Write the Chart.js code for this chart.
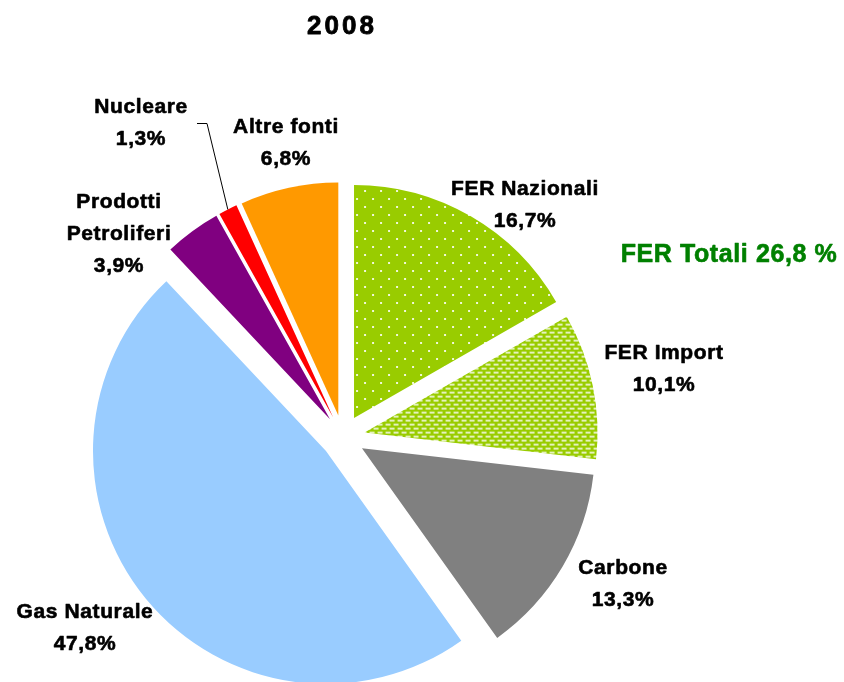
<!DOCTYPE html>
<html>
<head>
<meta charset="utf-8">
<script src="https://cdn.jsdelivr.net/npm/chart.js@4/dist/chart.umd.min.js"></script>
<style>
  html, body { margin: 0; padding: 0; background: #fff; }
  #wrap { width: 844px; height: 682px; }
</style>
</head>
<body>
<div id="wrap"><canvas id="chart" width="844" height="682"></canvas></div>
<script>
// data
const categories = ["FER Nazionali", "FER Import", "Carbone", "Gas Naturale", "Prodotti Petroliferi", "Nucleare", "Altre fonti"];
const shares = [16.7, 10.1, 13.3, 47.8, 3.9, 1.3, 6.8];
const ferTotale = 26.8;
const chartTitle = "2008";

// layout (label centres, first line), kept apart from the data
const labelSpots = [
  { x: 525, y: 189 },
  { x: 664, y: 353 },
  { x: 623, y: 568 },
  { x: 85, y: 612 },
  { x: 119, y: 202 },
  { x: 141, y: 107 },
  { x: 286, y: 127 },
];
const lineH = 32;
const explode = 22; // px each slice is pulled out along its bisector
const FONT = '"Liberation Sans", Arial, sans-serif';

function dotPattern() {
  const c = document.createElement("canvas");
  c.width = 16; c.height = 16;
  const g = c.getContext("2d");
  g.fillStyle = "#99CC00";
  g.fillRect(0, 0, 16, 16);
  g.fillStyle = "rgba(255,255,255,0.85)";
  g.fillRect(1, 1, 2, 2);
  g.fillRect(9, 9, 2, 2);
  return g.createPattern(c, "repeat");
}

function brickPattern() {
  const c = document.createElement("canvas");
  c.width = 8; c.height = 8;
  const g = c.getContext("2d");
  g.fillStyle = "#99CC00";
  g.fillRect(0, 0, 8, 8);
  g.fillStyle = "rgba(255,255,255,0.75)";
  g.fillRect(0, 0, 5, 2);
  g.fillRect(4, 4, 5, 2);
  g.fillRect(-4, 4, 5, 2);
  return g.createPattern(c, "repeat");
}

const sliceColors = [dotPattern(), brickPattern(), "#808080", "#99CCFF", "#800080", "#FF0000", "#FF9900"];

function pct(v) {
  return v.toFixed(1).replace(".", ",") + "%";
}

// Excel-style explode: shift every slice without growing its radius
// (chart.js' own `offset` also enlarges big slices)
const explodePlugin = {
  id: "explode",
  beforeDatasetDraw(chart, args) {
    const ctx = chart.ctx;
    args.meta.data.forEach((arc) => {
      const mid = (arc.startAngle + arc.endAngle) / 2;
      ctx.save();
      ctx.translate(Math.cos(mid) * explode, Math.sin(mid) * explode);
      arc.draw(ctx, chart.chartArea);
      ctx.restore();
    });
    return false;
  },
};

// bold text, a touch heavier like the original rendering
function heavyText(ctx, t, x, y, w) {
  ctx.lineWidth = w;
  ctx.strokeStyle = ctx.fillStyle;
  ctx.lineJoin = "round";
  ctx.strokeText(t, x, y);
  ctx.fillText(t, x, y);
}

const labelsPlugin = {
  id: "pieLabels",
  afterDraw(chart) {
    const ctx = chart.ctx;
    ctx.save();
    ctx.textAlign = "center";
    ctx.textBaseline = "middle";

    // title
    ctx.fillStyle = "#000";
    ctx.font = "bold 26px " + FONT;
    ctx.letterSpacing = "3px";
    heavyText(ctx, chartTitle, 342, 27, 0.8);

    // slice labels
    ctx.font = "bold 21px " + FONT;
    ctx.letterSpacing = "0.6px";
    categories.forEach((name, i) => {
      const lines = name === "Prodotti Petroliferi" ? ["Prodotti", "Petroliferi"] : [name];
      lines.push(pct(shares[i]));
      const s = labelSpots[i];
      lines.forEach((t, k) => heavyText(ctx, t, s.x, s.y + k * lineH, 0.6));
    });

    // FER total
    ctx.fillStyle = "#008000";
    ctx.font = "bold 25px " + FONT;
    ctx.letterSpacing = "0.6px";
    heavyText(ctx, "FER Totali " + ferTotale.toFixed(1).replace(".", ",") + " %", 729, 255, 0.6);

    // leader line to Nucleare
    const arc = chart.getDatasetMeta(0).data[5];
    const mid = (arc.startAngle + arc.endAngle) / 2;
    const ex = arc.x + Math.cos(mid) * (arc.outerRadius + explode);
    const ey = arc.y + Math.sin(mid) * (arc.outerRadius + explode);
    ctx.strokeStyle = "#000";
    ctx.lineWidth = 1;
    ctx.beginPath();
    ctx.moveTo(197, 123.5);
    ctx.lineTo(207, 123.5);
    ctx.lineTo(ex, ey);
    ctx.stroke();
    ctx.restore();
  },
};

new Chart(document.getElementById("chart").getContext("2d"), {
  type: "pie",
  data: {
    labels: categories,
    datasets: [
      {
        data: shares,
        backgroundColor: sliceColors,
        borderWidth: 0,
      },
    ],
  },
  options: {
    responsive: false,
    animation: false,
    radius: 233,
    layout: { padding: { left: 0, right: 158, top: 192, bottom: 0 } },
    plugins: {
      legend: { display: false },
      tooltip: { enabled: false },
      title: { display: false },
    },
  },
  plugins: [explodePlugin, labelsPlugin],
});
</script>
</body>
</html>
